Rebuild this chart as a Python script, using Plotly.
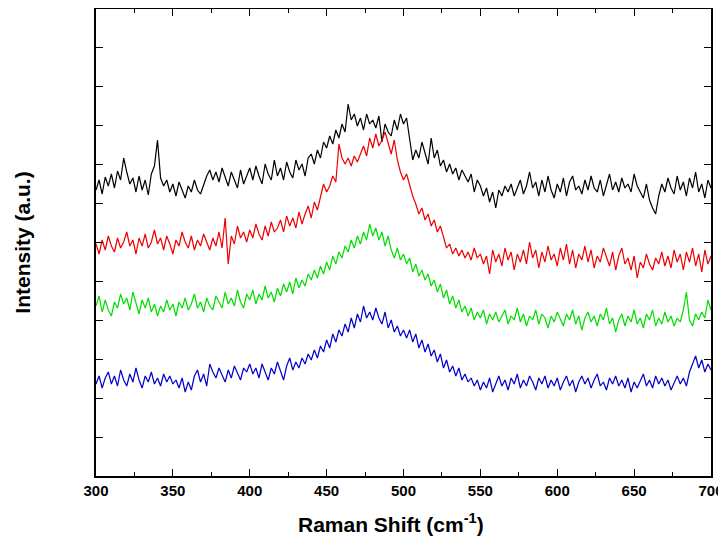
import plotly.graph_objects as go

x_start = 300
x_step = 2

black = [
286,296,282,299,290,302,288,305,296,318,
304,292,298,284,300,286,296,281,302,310,
336,298,290,296,284,292,280,294,286,278,
290,284,296,286,282,292,300,306,296,304,
294,308,298,290,304,296,288,306,292,300,
308,296,310,300,292,312,302,296,316,300,
308,296,314,304,298,316,306,312,300,318,
322,312,326,318,334,328,340,332,346,338,
352,344,372,356,362,350,358,346,362,352,
356,348,360,334,352,344,340,356,346,362,
352,358,338,316,326,318,334,322,312,338,
318,326,310,316,304,312,302,308,296,306,
300,294,302,284,296,290,280,288,274,284,
268,286,280,290,284,292,280,288,296,282,
290,304,288,294,280,296,284,300,286,278,
292,284,298,280,294,300,286,290,282,296,
286,300,288,284,296,280,292,302,286,294,
284,298,288,292,284,302,290,284,278,292,
276,268,262,280,292,284,298,288,282,300,
286,294,280,298,288,304,284,292,278,296,
288]

red = [
232,222,236,226,240,230,224,238,228,234,
244,230,236,222,238,230,242,228,234,246,
232,238,226,240,232,222,236,230,244,234,
228,240,226,236,230,242,234,226,238,230,
244,228,258,212,240,232,250,238,244,234,
246,238,252,242,236,250,240,254,244,248,
256,244,260,250,258,248,264,252,262,270,
258,274,266,278,292,284,290,300,294,332,
318,312,318,310,320,314,322,330,320,338,
328,342,330,336,344,332,322,336,316,304,
296,302,290,280,272,262,268,256,262,250,
256,244,250,238,228,232,222,228,220,226,
218,224,216,228,218,222,212,220,202,226,
214,222,210,228,216,224,206,222,214,226,
212,234,218,226,208,224,214,230,216,222,
210,228,216,232,212,226,208,222,216,230,
214,226,208,220,214,228,218,210,224,206,
220,228,212,218,206,220,198,214,208,222,
212,206,218,212,224,210,220,208,226,214,
222,206,224,214,228,210,222,204,226,212,
220]

green = [
170,180,164,176,166,160,174,168,182,172,
178,166,184,172,162,176,168,178,164,172,
160,170,164,176,166,172,160,174,168,178,
166,172,182,168,174,164,178,170,166,180,
174,168,184,172,178,170,186,174,168,182,
176,186,172,182,176,190,178,184,174,188,
180,192,184,194,182,198,188,196,190,202,
196,206,198,210,202,214,206,220,212,224,
218,230,224,236,228,240,232,244,236,252,
240,248,236,244,230,240,226,218,228,216,
222,212,218,204,212,200,206,196,202,190,
196,184,192,178,186,172,180,168,176,164,
170,160,168,156,164,158,166,152,162,156,
164,154,160,166,152,160,156,168,154,162,
150,160,156,166,152,162,158,148,160,154,
164,156,150,162,156,166,152,160,146,158,
164,154,160,150,162,156,168,152,158,144,
156,162,150,160,154,166,152,158,148,162,
156,166,150,158,152,164,154,160,150,158,
154,166,184,156,150,162,156,164,158,176,
166]

blue = [
92,100,88,98,104,92,100,90,106,96,
90,102,94,108,96,88,100,94,104,92,
98,90,102,94,100,92,96,88,98,84,
94,86,100,106,94,102,90,112,104,98,
108,100,94,106,98,110,102,96,108,104,
112,102,108,98,112,104,96,108,102,114,
104,96,110,118,106,114,108,118,112,122,
116,126,118,130,124,136,128,142,134,146,
140,152,144,158,148,162,154,170,158,164,
156,168,158,152,164,148,156,144,150,140,
146,138,146,134,142,128,136,124,132,120,
126,114,122,108,116,104,110,100,108,96,
102,94,98,90,96,86,94,88,98,84,
92,100,90,96,86,98,92,102,88,96,
90,100,94,86,98,92,100,88,96,90,
98,86,94,100,90,96,84,94,100,92,
98,88,96,102,90,94,86,98,92,100,
90,96,88,98,84,94,88,96,102,90,
96,88,100,92,98,90,96,86,94,100,
92,98,90,104,112,120,108,116,104,112,
106]

def xs(n):
    return [x_start + x_step * i for i in range(n)]

series = [
    (black, "#000000"),
    (red, "#ee0000"),
    (green, "#00dd00"),
    (blue, "#0000cc"),
]

fig = go.Figure()
for vals, col in series:
    fig.add_trace(go.Scatter(x=xs(len(vals)), y=vals, mode="lines",
                             line=dict(color=col, width=1.2), showlegend=False))

font_fam = "Liberation Sans, Arial, sans-serif"

# page body has an 8px default margin; size the figure so the plot frame
# lands at x 96..711, y 9..476 in the 726x553 window
fig.update_layout(
    width=718, height=545,
    margin=dict(l=88, r=15, t=1, b=77),
    paper_bgcolor="white", plot_bgcolor="white",
    font=dict(family=font_fam, color="black"),
)
fig.update_xaxes(
    range=[300, 700], tick0=300, dtick=50,
    ticks="inside", ticklen=7, tickwidth=1.2, tickcolor="black",
    minor=dict(ticks="inside", ticklen=4, dtick=25, tickcolor="black", tickwidth=1),
    showline=True, linecolor="black", linewidth=1.5, mirror="ticks",
    showgrid=False, zeroline=False, automargin=False,
    tickfont=dict(size=15, family=font_fam, weight="bold"),
)
fig.update_yaxes(
    range=[0, 467], tick0=0, dtick=467/12,
    ticks="inside", ticklen=7, tickwidth=1.2, tickcolor="black",
    showticklabels=False,
    showline=True, linecolor="black", linewidth=1.5, mirror="ticks",
    showgrid=False, zeroline=False, automargin=False,
)

fig.add_annotation(text="<b>Raman Shift (cm<sup>-1</sup>)</b>", xref="paper", yref="paper",
                   x=0.48, y=-0.1, showarrow=False, xanchor="center", yanchor="middle",
                   font=dict(size=21, family=font_fam, color="black"))
fig.add_annotation(text="<b>Intensity (a.u.)</b>", xref="paper", yref="paper",
                   x=-0.12, y=0.5, showarrow=False, textangle=-90,
                   xanchor="center", yanchor="middle",
                   font=dict(size=21, family=font_fam, color="black"))

fig.write_html("out.html")
